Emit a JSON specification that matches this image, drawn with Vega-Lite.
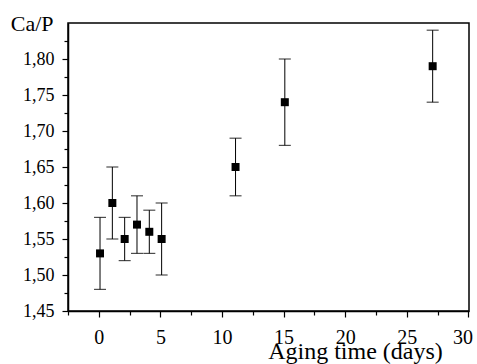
{
  "$schema": "https://vega.github.io/schema/vega-lite/v6.json",
  "width": 401,
  "height": 288,
  "autosize": {"type": "none"},
  "padding": {"left": 68, "top": 23, "right": 8, "bottom": 53},
  "background": "white",
  "config": {
    "view": {"stroke": "black", "strokeWidth": 1.5},
    "font": "Liberation Serif"
  },
  "data": {
    "values": [
      {"t": 0.1, "r": 1.53, "lo": 1.48, "hi": 1.58},
      {"t": 1.1, "r": 1.60, "lo": 1.55, "hi": 1.65},
      {"t": 2.1, "r": 1.55, "lo": 1.52, "hi": 1.58},
      {"t": 3.1, "r": 1.57, "lo": 1.53, "hi": 1.61},
      {"t": 4.1, "r": 1.56, "lo": 1.53, "hi": 1.59},
      {"t": 5.1, "r": 1.55, "lo": 1.50, "hi": 1.60},
      {"t": 11.1, "r": 1.65, "lo": 1.61, "hi": 1.69},
      {"t": 15.1, "r": 1.74, "lo": 1.68, "hi": 1.80},
      {"t": 27.1, "r": 1.79, "lo": 1.74, "hi": 1.84}
    ]
  },
  "encoding": {
    "x": {
      "field": "t", "type": "quantitative",
      "scale": {"domain": [-2.5, 30.05], "nice": false, "zero": false},
      "axis": {
        "values": [-2.5, 0, 2.5, 5, 7.5, 10, 12.5, 15, 17.5, 20, 22.5, 25, 27.5, 30],
        "labelExpr": "datum.value % 5 == 0 ? datum.label : ''",
        "grid": false, "domainColor": "black", "domainWidth": 1.5,
        "tickColor": "black", "tickWidth": 1.2,
        "tickSize": {"condition": {"test": "datum.value % 5 != 0", "value": 4}, "value": 6},
        "labelFont": "Liberation Serif", "labelFontSize": 20, "labelColor": "black",
        "labelPadding": 10, "labelFlush": 2, "labelFlushOffset": 4,
        "title": "Aging time (days)", "titleFont": "Liberation Serif", "titleFontSize": 24,
        "titleFontWeight": "normal", "titleColor": "black",
        "titleX": 287, "titleY": 47, "titleBaseline": "alphabetic", "titleAlign": "center"
      }
    },
    "y": {
      "field": "r", "type": "quantitative",
      "scale": {"domain": [1.45, 1.85], "nice": false, "zero": false},
      "axis": {
        "values": [1.45, 1.475, 1.5, 1.525, 1.55, 1.575, 1.6, 1.625, 1.65, 1.675, 1.7, 1.725, 1.75, 1.775, 1.8, 1.825],
        "labelExpr": "round(datum.value * 1000) % 50 == 0 ? replace(format(datum.value, '.2f'), '.', ',') : ''",
        "grid": false, "domainColor": "black", "domainWidth": 1.5,
        "tickColor": "black", "tickWidth": 1.2,
        "tickSize": {"condition": {"test": "round(datum.value * 1000) % 50 != 0", "value": 4}, "value": 6},
        "labelFont": "Liberation Serif", "labelFontSize": 18, "labelColor": "black",
        "labelPadding": 8, "labelFlush": false,
        "title": "Ca/P", "titleFont": "Liberation Serif", "titleFontSize": 22,
        "titleFontWeight": "normal", "titleColor": "black", "titleAngle": 0,
        "titleX": -15, "titleY": 7, "titleAlign": "right", "titleBaseline": "alphabetic"
      }
    }
  },
  "layer": [
    {
      "mark": {"type": "rule", "color": "black", "strokeWidth": 1},
      "encoding": {"y": {"field": "lo", "type": "quantitative"}, "y2": {"field": "hi"}}
    },
    {
      "mark": {"type": "tick", "orient": "horizontal", "color": "black", "size": 12, "thickness": 1.2},
      "encoding": {"y": {"field": "lo", "type": "quantitative"}}
    },
    {
      "mark": {"type": "tick", "orient": "horizontal", "color": "black", "size": 12, "thickness": 1.2},
      "encoding": {"y": {"field": "hi", "type": "quantitative"}}
    },
    {
      "mark": {"type": "point", "shape": "square", "filled": true, "color": "black", "opacity": 1, "size": 64}
    }
  ]
}
